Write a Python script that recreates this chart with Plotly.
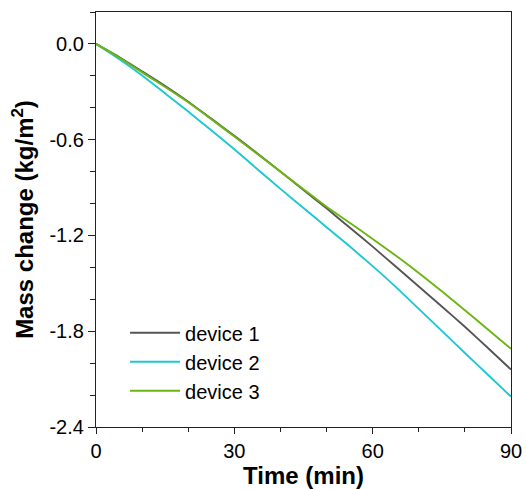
import plotly.graph_objects as go

time_min = [0, 5, 10, 15, 20, 25, 30, 35, 40, 45, 50, 55, 60, 65, 70, 75, 80, 85, 90]
device1 = [0, -0.082, -0.172, -0.264, -0.362, -0.468, -0.575, -0.686, -0.80, -0.915,
           -1.03, -1.15, -1.27, -1.395, -1.52, -1.645, -1.772, -1.905, -2.04]
device2 = [0, -0.095, -0.198, -0.31, -0.424, -0.541, -0.66, -0.785, -0.908, -1.028,
           -1.148, -1.268, -1.392, -1.522, -1.66, -1.798, -1.936, -2.073, -2.21]
device3 = [0, -0.085, -0.178, -0.27, -0.366, -0.472, -0.58, -0.69, -0.80, -0.91,
           -1.02, -1.12, -1.222, -1.326, -1.435, -1.55, -1.668, -1.789, -1.91]

series_names = ["device 1", "device 2", "device 3"]
series_colors = ["#555555", "#1cc8d2", "#6cb512"]

x_ticks = [0, 30, 60, 90]
y_ticks = [0.0, -0.6, -1.2, -1.8, -2.4]
y_ticklabels = ["0.0", "-0.6", "-1.2", "-1.8", "-2.4"]

fig = go.Figure()
for name, vals, col in zip(series_names, [device1, device2, device3], series_colors):
    fig.add_trace(go.Scatter(x=time_min, y=vals, mode="lines", name=name,
                             line=dict(color=col, width=1.9, shape="spline", smoothing=0.6)))

axis_font = dict(family="Liberation Sans, Arial, sans-serif", size=20, color="black")
title_font = dict(family="Liberation Sans, Arial, sans-serif", size=24, color="black")

fig.update_layout(
    width=526, height=489,
    margin=dict(l=96, r=15, t=12, b=62),
    paper_bgcolor="white", plot_bgcolor="white",
    showlegend=True,
    legend=dict(x=0.07, y=0.274, xanchor="left", yanchor="top",
                bgcolor="rgba(0,0,0,0)", font=dict(family="Liberation Sans, Arial, sans-serif", size=20, color="black"),
                itemwidth=50, tracegroupgap=0),
    xaxis=dict(range=[0, 90], tickvals=x_ticks, ticks="outside", ticklen=6, tickwidth=1.2,
               tickcolor="#222", showline=True, linecolor="#222", linewidth=1.3, mirror=True,
               showgrid=False, zeroline=False, tickfont=axis_font, automargin=False,
               minor=dict(dtick=10, ticks="outside", ticklen=4, tickcolor="#222", tickwidth=1.1, showgrid=False),
               title=dict(text="<b>Time (min)</b>", font=title_font, standoff=4)),
    yaxis=dict(range=[-2.4, 0.2], tickvals=y_ticks, ticktext=y_ticklabels, ticks="outside", ticklen=7,
               tickwidth=1.2, tickcolor="#222", showline=True, linecolor="#222", linewidth=1.3, mirror=True,
               showgrid=False, zeroline=False, tickfont=axis_font, automargin=False,
               minor=dict(tickvals=[0.2, -0.2, -0.4, -0.8, -1.0, -1.4, -1.6, -2.0, -2.2], ticks="outside",
                          ticklen=5, tickcolor="#222", tickwidth=1.1, showgrid=False),
               title=dict(text="<b>Mass change (kg/m<sup>2</sup>)</b>", font=title_font, standoff=8)),
)

fig.write_html("out.html")
